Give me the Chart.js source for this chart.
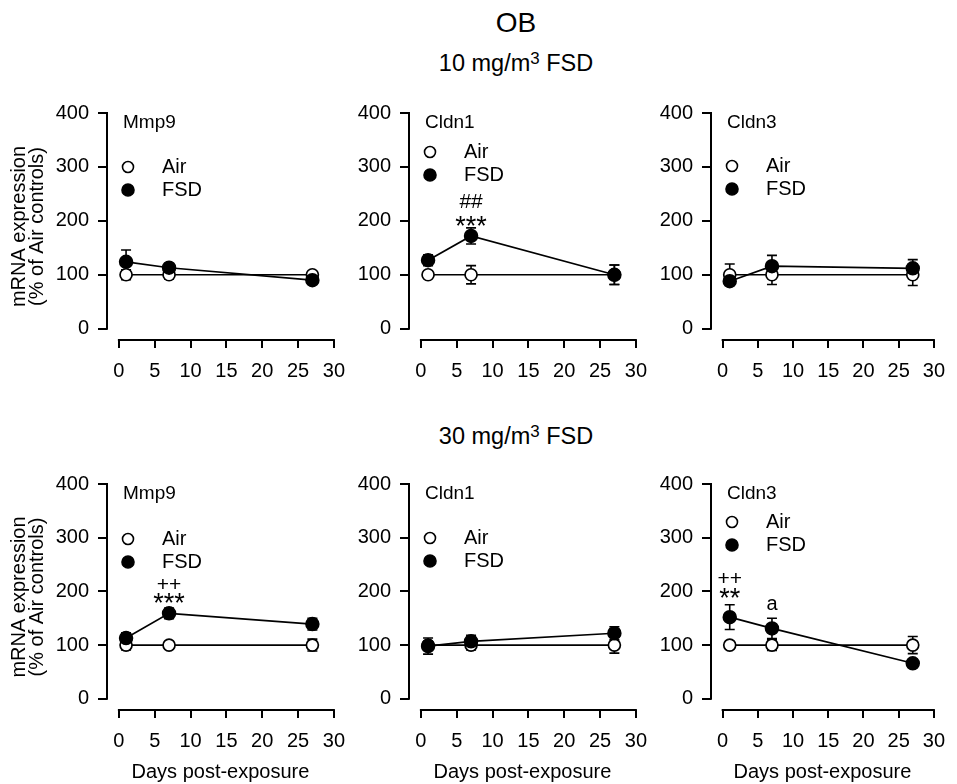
<!DOCTYPE html>
<html>
<head>
<meta charset="utf-8">
<script src="https://cdn.jsdelivr.net/npm/chart.js"></script>
<style>
  html, body { margin: 0; padding: 0; background: #fff; overflow: hidden; }
  #page { position: relative; width: 957px; height: 784px; font-family: "Liberation Sans", Arial, sans-serif; color: #000; }
  .title { position: absolute; left: 316px; width: 400px; text-align: center; line-height: 1; white-space: nowrap; }
  .sup { font-size: 0.72em; position: relative; top: -0.42em; }
  canvas { position: absolute; }
</style>
</head>
<body>
<div id="page">
  <div class="title" style="top:9px;font-size:28px">OB</div>
  <div class="title" id="t10" style="top:52px;font-size:23.5px"></div>
  <div class="title" id="t30" style="top:425px;font-size:23.5px"></div>
</div>
<script>
const days = [1, 7, 27];
const xTicks = [0, 5, 10, 15, 20, 25, 30];
const yTicks = [0, 100, 200, 300, 400];
const genes = ["Mmp9", "Cldn1", "Cldn3"];
const doseTitles = ["10 mg/m³ FSD", "30 mg/m³ FSD"];
const yTitle = ["mRNA expression", "(% of Air controls)"];
const xTitle = "Days post-exposure";

// values per gene (Mmp9, Cldn1, Cldn3) at days 1, 7, 27
const air10 = [[100, 100, 100], [100, 100, 100], [100, 100, 100]];
const air10Err = [[9, 8, 5], [5, 17, 18], [20, 18, 20]];
const fsd10 = [[124, 113, 90], [127, 172, 100], [88, 116, 112]];
const fsd10Err = [[22, 8, 5], [10, 15, 18], [6, 20, 16]];

const air30 = [[100, 100, 100], [100, 100, 100], [100, 100, 100]];
const air30Err = [[9, 3, 11], [5, 9, 15], [3, 10, 16]];
const fsd30 = [[113, 159, 139], [98, 107, 122], [152, 131, 66]];
const fsd30Err = [[10, 10, 11], [15, 11, 12], [23, 19, 7]];

// significance marks: day, level (% of Air), text
const marks10 = [[], [{ day: 7, level: 234, text: "##" }, { day: 7, level: 188, text: "***" }], []];
const marks30 = [
  [{ day: 7, level: 211, text: "++" }, { day: 7, level: 175, text: "***" }],
  [],
  [{ day: 1, level: 223, text: "++" }, { day: 1, level: 184, text: "**" }, { day: 7, level: 176, text: "a" }]
];

const FONT = '"Liberation Sans", Arial, sans-serif';
Chart.defaults.font.family = FONT;
Chart.defaults.color = "#000";

function setTitle(id, txt) {
  const el = document.getElementById(id);
  const parts = txt.split("³");
  el.append(parts[0]);
  const s = document.createElement("span");
  s.className = "sup";
  s.textContent = "3";
  el.append(s, parts[1]);
}
setTitle("t10", doseTitles[0]);
setTitle("t30", doseTitles[1]);

// layout
const chartLeft = [107, 409, 711];
const canvasLeft = [0, 339, 641];
const rowTop = [112, 483];
const rowBottom = [340, 710];
const xHeight = [42, 74];
const plotWidth = 229;
const legendDy = [[54, 39, 53], [55, 54, 38]];

const decor = {
  id: "decor",
  beforeDatasetsDraw(chart) {
    const ctx = chart.ctx, xs = chart.scales.x, ys = chart.scales.y, a = chart.chartArea;
    ctx.save();
    ctx.strokeStyle = "#000";
    ctx.lineWidth = 2;
    ctx.beginPath();
    ctx.moveTo(a.left, ys.getPixelForValue(yTicks[0]) + 1);
    ctx.lineTo(a.left, ys.getPixelForValue(yTicks[yTicks.length - 1]) - 1);
    ctx.moveTo(xs.getPixelForValue(xTicks[0]) - 1, a.bottom);
    ctx.lineTo(xs.getPixelForValue(xTicks[xTicks.length - 1]) + 1, a.bottom);
    ctx.stroke();
    ctx.lineWidth = 1.6;
    chart.data.datasets.forEach(ds => {
      ds.data.forEach((p, i) => {
        const e = ds.errors[i];
        const px = xs.getPixelForValue(p.x);
        const t = ys.getPixelForValue(p.y + e), b = ys.getPixelForValue(p.y - e);
        ctx.beginPath();
        ctx.moveTo(px, t); ctx.lineTo(px, b);
        ctx.moveTo(px - 5, t); ctx.lineTo(px + 5, t);
        ctx.moveTo(px - 5, b); ctx.lineTo(px + 5, b);
        ctx.stroke();
      });
    });
    ctx.restore();
  },
  afterDatasetsDraw(chart, args, o) {
    const ctx = chart.ctx, xs = chart.scales.x, ys = chart.scales.y, a = chart.chartArea;
    ctx.save();
    ctx.fillStyle = "#000";
    ctx.textBaseline = "middle";
    ctx.textAlign = "left";
    ctx.font = "19px " + FONT;
    ctx.fillText(o.gene, a.left + 16, a.top + 10);
    // legend: Air first, FSD second
    const items = chart.data.datasets.slice().reverse();
    items.forEach((ds, k) => {
      const y = a.top + o.legendDy + k * 23;
      ctx.beginPath();
      ctx.arc(a.left + 21, y, ds.pointRadius - 0.5, 0, Math.PI * 2);
      ctx.fillStyle = ds.pointBackgroundColor;
      ctx.fill();
      ctx.lineWidth = 1.6;
      ctx.strokeStyle = "#000";
      ctx.stroke();
      ctx.fillStyle = "#000";
      ctx.font = "20px " + FONT;
      ctx.fillText(ds.label, a.left + 55, y);
    });
    ctx.textAlign = "center";
    o.marks.forEach(m => {
      const big = m.text.indexOf("*") >= 0;
      ctx.font = (big ? "27px " : m.text === "a" ? "20px " : "21px ") + FONT;
      ctx.fillText(m.text, xs.getPixelForValue(m.day), ys.getPixelForValue(m.level));
    });
    ctx.restore();
  }
};

function panel(row, col, air, airErr, fsd, fsdErr, marks) {
  const cv = document.createElement("canvas");
  const yW = chartLeft[col] - canvasLeft[col];
  const padRight = col === 2 ? 16 : 20;
  const w = yW + plotWidth + padRight;
  const h = 20 + (rowBottom[row] - rowTop[row]) + xHeight[row];
  cv.width = w; cv.height = h;
  cv.style.left = canvasLeft[col] + "px";
  cv.style.top = (rowTop[row] - 20) + "px";
  document.getElementById("page").append(cv);

  new Chart(cv, {
    type: "line",
    data: {
      datasets: [
        {
          label: "FSD",
          data: days.map((d, i) => ({ x: d, y: fsd[i] })),
          errors: fsdErr,
          borderColor: "#000",
          borderWidth: 1.7,
          pointRadius: 6.5,
          pointBackgroundColor: "#000",
          pointBorderColor: "#000",
          pointBorderWidth: 1.5,
          order: 0
        },
        {
          label: "Air",
          data: days.map((d, i) => ({ x: d, y: air[i] })),
          errors: airErr,
          borderColor: "#000",
          borderWidth: 1.7,
          pointRadius: 6,
          pointBackgroundColor: "#fff",
          pointBorderColor: "#000",
          pointBorderWidth: 1.7,
          order: 1
        }
      ]
    },
    options: {
      responsive: false,
      animation: false,
      events: [],
      layout: { padding: { top: 20, right: padRight, left: 0, bottom: 0 } },
      plugins: {
        legend: { display: false },
        tooltip: { enabled: false },
        decor: { gene: genes[col], legendDy: legendDy[row][col], marks: marks }
      },
      scales: {
        x: {
          type: "linear",
          min: -1.66,
          max: 30,
          afterBuildTicks: s => { s.ticks = xTicks.map(v => ({ value: v })); },
          afterFit: s => { s.height = xHeight[row]; },
          grid: { drawOnChartArea: false, color: "#000", lineWidth: 2, tickLength: 8 },
          border: { display: false },
          ticks: { font: { size: 20 }, padding: 11, maxRotation: 0, autoSkip: false },
          title: { display: row === 1, text: xTitle, font: { size: 20 }, padding: { top: 0, bottom: 0 } }
        },
        y: {
          min: -21,
          max: 400,
          afterBuildTicks: s => { s.ticks = yTicks.map(v => ({ value: v })); },
          afterFit: s => { s.width = yW; },
          grid: { drawOnChartArea: false, color: "#000", lineWidth: 2, tickLength: 9 },
          border: { display: false },
          ticks: { font: { size: 20 }, padding: 9, autoSkip: false },
          title: { display: col === 0, text: yTitle, font: { size: 20, lineHeight: 0.9 }, padding: { top: 10, bottom: 0 } }
        }
      }
    },
    plugins: [decor]
  });
}

for (let g = 0; g < 3; g++) {
  panel(0, g, air10[g], air10Err[g], fsd10[g], fsd10Err[g], marks10[g]);
  panel(1, g, air30[g], air30Err[g], fsd30[g], fsd30Err[g], marks30[g]);
}
</script>
</body>
</html>
